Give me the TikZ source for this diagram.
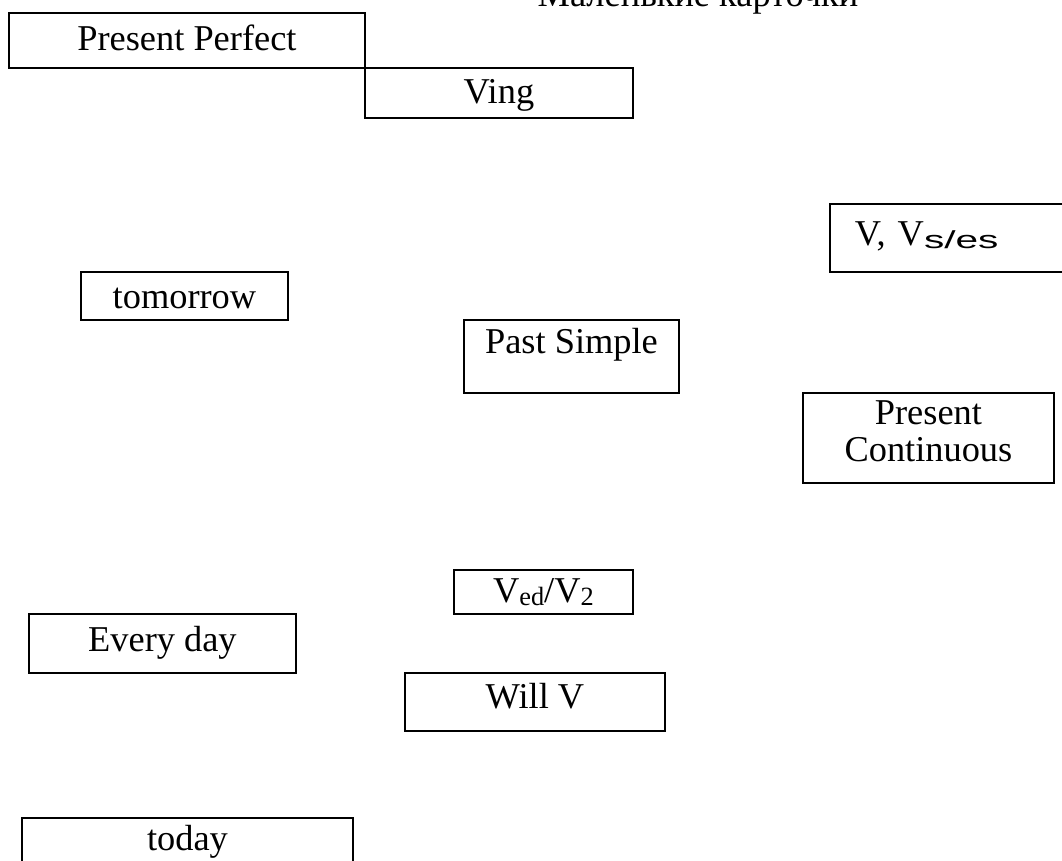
\documentclass[tikz,border=0pt]{standalone}
\usepackage{fontspec}
\setmainfont{Liberation Serif}
\newfontfamily\subsans{Liberation Sans}
\newcommand{\lowsub}[1]{\raisebox{-1.5pt}{\fontsize{15}{16}\selectfont #1}}
\newcommand{\widesub}[1]{\raisebox{-1.5pt}{\scalebox{1.65}[1]{\subsans\fontsize{14}{15}\selectfont #1}}}

\begin{document}
\begin{tikzpicture}[
  x=0.02cm, y=-0.02cm,
  card/.style={
    draw, line width=1.1pt, anchor=north west,
    inner sep=0pt, align=center,
    font=\fontsize{20.7}{21}\selectfont
  },
  heading/.style={anchor=base, font=\fontsize{20.7}{21}\selectfont}
]
\useasboundingbox (0,0) rectangle (1062,861);
\clip (0,0) rectangle (1062,861);

% Title, cut off at the top
\node[heading] (caption) at (698,7) {Маленькие карточки};

% Upper cards
\node[card, minimum width=7.12cm, text height=0.76cm, text depth=0.34cm] (perfect) at (8,12) {Present Perfect};
\node[card, minimum width=5.36cm, text height=0.72cm, text depth=0.28cm] (ving) at (364,67) {Ving};
\node[card, align=left, text width=4.2cm, inner xsep=0.5cm, text height=0.84cm, text depth=0.52cm] (vs) at (829,203) {V, V\widesub{s/es}};
\node[card, minimum width=4.14cm, text height=0.74cm, text depth=0.22cm] (tomorrow) at (80,271) {tomorrow};
\node[card, minimum width=4.30cm, text height=0.68cm, text depth=0.78cm] (past) at (463,319) {Past Simple};
\node[card, text width=5.02cm, text height=0.64cm, text depth=1.16cm] (continuous) at (802,392) {Present\\Continuous};

% Lower cards
\node[card, minimum width=3.58cm, text height=0.66cm, text depth=0.22cm] (ved) at (453,569) {V\lowsub{ed}/V\lowsub{2}};
\node[card, minimum width=5.34cm, text height=0.76cm, text depth=0.42cm] (everyday) at (28,613) {Every day};
\node[card, minimum width=5.20cm, text height=0.72cm, text depth=0.44cm] (will) at (404,672) {Will V};
\node[card, minimum width=6.62cm, text height=0.66cm, text depth=0.54cm] (today) at (21,817) {today};

\end{tikzpicture}
\end{document}
